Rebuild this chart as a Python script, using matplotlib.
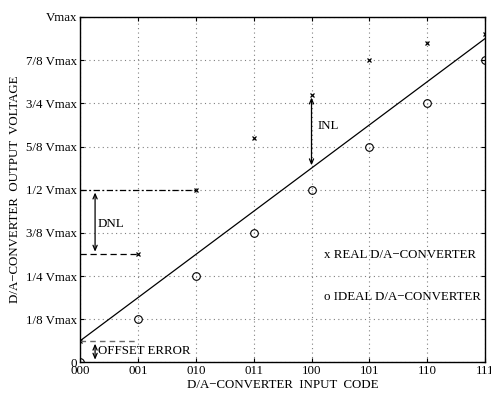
# D/A converter transfer characteristic: ideal vs real codes
import matplotlib.pyplot as plt

plt.rcParams['font.family'] = ['Liberation Serif', 'DejaVu Serif']

codes = ['000', '001', '010', '011', '100', '101', '110', '111']
ideal = [0, 1/8, 2/8, 3/8, 4/8, 5/8, 6/8, 7/8]
real = [1/16, 5/16, 0.5, 0.65, 0.775, 0.875, 0.924, 0.95]
fit_x = [0, 7]
fit_y = [1/16, 15/16]
ytick_vals = [0, 1/8, 2/8, 3/8, 4/8, 5/8, 6/8, 7/8, 1]
ytick_labels = ['0', '1/8 Vmax', '1/4 Vmax', '3/8 Vmax', '1/2 Vmax',
                '5/8 Vmax', '3/4 Vmax', '7/8 Vmax', 'Vmax']

fs = 9.3
fig = plt.figure(figsize=(4.91, 3.94), dpi=100)
ax = fig.add_axes([0.163, 0.080, 0.825, 0.877])

x = list(range(len(codes)))
ax.plot(fit_x, fit_y, color='black', linewidth=0.9)
ax.plot(x, real, linestyle='none', marker='x', color='black',
        markersize=3.5, markeredgewidth=0.9)
ax.plot(x, ideal, linestyle='none', marker='o', markerfacecolor='none',
        markeredgecolor='black', markersize=5.5, markeredgewidth=0.8)

arrow = dict(arrowstyle='<->,head_length=0.35,head_width=0.15', color='black', lw=0.9)

# DNL
ax.plot([0, 2], [real[2], real[2]], color='black', linewidth=0.9, dashes=(5, 2, 1.5, 2))
ax.plot([0, 1], [real[1], real[1]], color='black', linewidth=0.9, dashes=(5, 3))
ax.annotate('', xy=(0.26, real[1]), xytext=(0.26, real[2]), arrowprops=arrow)
ax.text(0.31, 0.40, 'DNL', fontsize=fs, va='center')

# offset error
ax.plot([0, 1], [real[0], real[0]], color='dimgray', linewidth=1.0, dashes=(4, 3))
ax.annotate('', xy=(0.26, 0), xytext=(0.26, real[0]), arrowprops=arrow)
ax.text(0.31, 0.033, 'OFFSET ERROR', fontsize=fs, va='center')

# INL
ax.annotate('', xy=(4, fit_y[0] + 4 / 8), xytext=(4, real[4]), arrowprops=arrow)
ax.text(4.1, 0.685, 'INL', fontsize=fs, va='center')

ax.text(4.21, 0.312, 'x REAL D/A\u2212CONVERTER', fontsize=fs, va='center')
ax.text(4.21, 0.19, 'o IDEAL D/A\u2212CONVERTER', fontsize=fs, va='center')

ax.set_xlim(0, 7)
ax.set_ylim(0, 1)
ax.set_xticks(x)
ax.set_xticklabels(codes)
ax.set_yticks(ytick_vals)
ax.set_yticklabels(ytick_labels)
ax.tick_params(direction='in', top=True, right=True, labelsize=fs, pad=2, length=3)
ax.grid(True, linestyle=(0, (1, 3)), color='gray', linewidth=0.8)
for s in ax.spines.values():
    s.set_linewidth(1.0)

ax.set_xlabel('D/A\u2212CONVERTER  INPUT  CODE', fontsize=fs, labelpad=1)
ax.set_ylabel('D/A\u2212CONVERTER  OUTPUT  VOLTAGE', fontsize=fs, labelpad=4)

fig.savefig('out.png', dpi=100)
